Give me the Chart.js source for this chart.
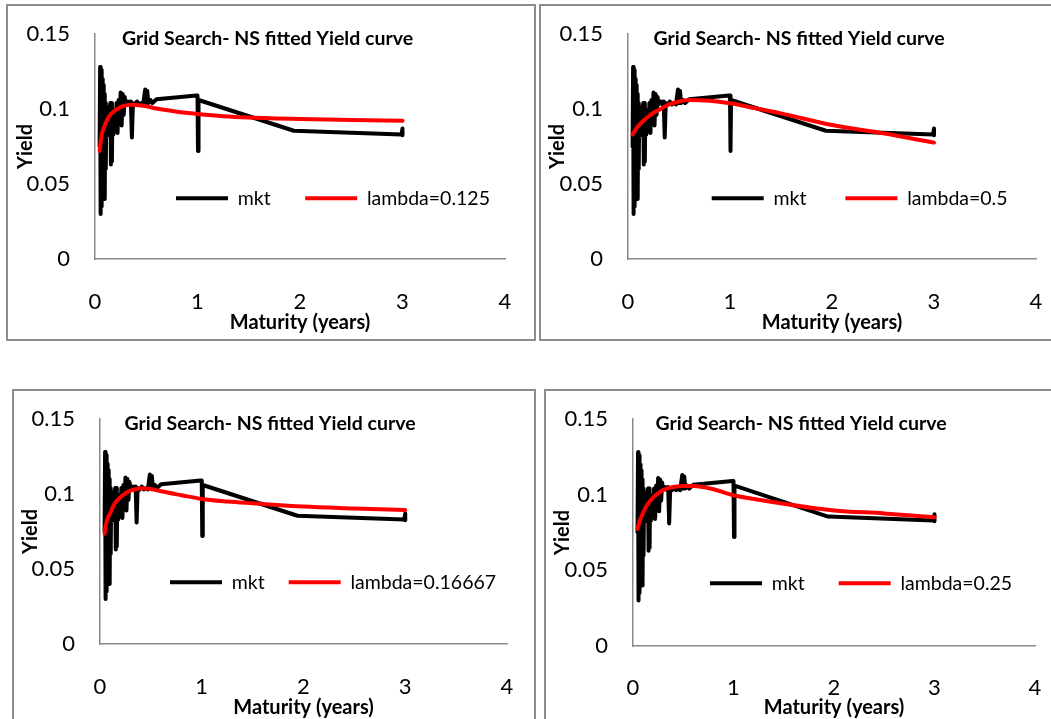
<!DOCTYPE html>
<html>
<head>
<meta charset="utf-8">
<script src="https://cdn.jsdelivr.net/npm/chart.js@4.4.0/dist/chart.umd.min.js"></script>
<style>
  html, body { margin: 0; padding: 0; background: #fff; overflow: hidden; width: 1051px; height: 719px; }
  .panel { position: absolute; box-sizing: border-box; border: 2px solid #8c8c8c; }
  canvas { position: absolute; }
</style>
</head>
<body>
<div class="panel" style="left:6px;top:4px;width:530px;height:337px"></div>
<div class="panel" style="left:539px;top:4px;width:530px;height:337px"></div>
<div class="panel" style="left:12px;top:389px;width:524px;height:340px"></div>
<div class="panel" style="left:544px;top:389px;width:530px;height:340px"></div>
<canvas id="c1" width="530" height="337" style="left:6px;top:4px"></canvas>
<canvas id="c2" width="530" height="337" style="left:539px;top:4px"></canvas>
<canvas id="c3" width="524" height="337" style="left:12px;top:389px"></canvas>
<canvas id="c4" width="530" height="337" style="left:544px;top:389px"></canvas>
<script>
// ---------- data ----------
const chartTitle = 'Grid Search- NS fitted Yield curve';
const xAxisTitle = 'Maturity (years)';
const yAxisTitle = 'Yield';
const xTickLabels = ['0', '1', '2', '3', '4'];
const yTickLabels = ['0', '0.05', '0.1', '0.15'];

const mktLabel = 'mkt';
const mktMaturity = [0.045, 0.050, 0.055, 0.060, 0.065, 0.070, 0.075, 0.080, 0.085, 0.090, 0.095, 0.100,
  0.105, 0.110, 0.115, 0.120, 0.130, 0.140, 0.150, 0.155, 0.160, 0.165, 0.170, 0.180, 0.190, 0.200,
  0.210, 0.220, 0.230, 0.240, 0.250, 0.260, 0.270, 0.280, 0.290, 0.300, 0.320, 0.340, 0.350, 0.360,
  0.370, 0.390, 0.410, 0.430, 0.450, 0.470, 0.490, 0.500, 0.510, 0.520, 0.540, 0.560, 0.600, 0.990,
  1.000, 1.005, 1.010, 1.940, 2.990, 3.000, 3.000];
const mktYield = [0.075, 0.128, 0.030, 0.126, 0.035, 0.120, 0.040, 0.116, 0.042, 0.110, 0.040, 0.104,
  0.060, 0.098, 0.082, 0.095, 0.085, 0.100, 0.104, 0.063, 0.104, 0.065, 0.100, 0.083, 0.099, 0.086,
  0.104, 0.084, 0.106, 0.090, 0.111, 0.089, 0.110, 0.096, 0.108, 0.103, 0.105, 0.103, 0.105, 0.081,
  0.104, 0.103, 0.105, 0.103, 0.104, 0.103, 0.113, 0.104, 0.112, 0.104, 0.106, 0.104, 0.1065, 0.109,
  0.109, 0.072, 0.106, 0.0855, 0.083, 0.087, 0.0825];

const fitMaturity = [0.045, 0.055, 0.065, 0.08, 0.1, 0.13, 0.16, 0.2, 0.26, 0.3, 0.35, 0.4, 0.5, 0.6,
  0.8, 1.0, 1.25, 1.5, 2.0, 2.5, 3.0];
const fitLabels = ['lambda=0.125', 'lambda=0.5', 'lambda=0.16667', 'lambda=0.25'];
const fitLambda0125 = [0.072, 0.078, 0.0825, 0.0865, 0.0897, 0.0942, 0.0970, 0.0993, 0.1016, 0.1024, 0.1028,
  0.1027, 0.1018, 0.1003, 0.0982, 0.0967, 0.0952, 0.0943, 0.0933, 0.0927, 0.0922];
const fitLambda05 = [0.0830, 0.0842, 0.0853, 0.0868, 0.0886, 0.0908, 0.0927, 0.0950, 0.0978, 0.0993, 0.1012,
  0.1030, 0.1050, 0.1060, 0.1055, 0.1038, 0.1005, 0.0971, 0.0893, 0.0838, 0.0776];
const fitLambda016667 = [0.0735, 0.0780, 0.0815, 0.0845, 0.0870, 0.0920, 0.0950, 0.0978, 0.1008, 0.1022, 0.1032,
  0.1038, 0.1033, 0.1018, 0.0992, 0.0967, 0.0950, 0.0938, 0.0916, 0.0904, 0.0893];
const fitLambda025 = [0.0775, 0.0800, 0.0822, 0.0850, 0.0880, 0.0920, 0.0950, 0.0980, 0.1013, 0.1031, 0.1043,
  0.1051, 0.1058, 0.1058, 0.1036, 0.0996, 0.0966, 0.0940, 0.0896, 0.0876, 0.0851];

// ---------- drawing ----------
const FONT = 'Lato';
const AXIS_COLOR = '#8a8a8a';
const TITLE_SIZE = 19.5, AXIS_TITLE_SIZE = 20, TICK_SIZE = 22, LEGEND_SIZE = 19.5;

const moveLegend = {
  id: 'moveLegend',
  afterLayout(chart, args, opts) {
    const lg = chart.legend;
    const lab = chart.options.plugins.legend.labels;
    const pad = lab.padding;
    const fs = lab.font.size;
    lg.left = opts.x - pad;
    lg.right = chart.width;
    lg.top = opts.y - pad - fs / 2;
    lg.bottom = lg.top + 80;
    lg.width = lg.right - lg.left;
    lg.height = 80;
  }
};

function pts(xs, ys) { return xs.map((x, i) => ({ x: x, y: ys[i] })); }

function makeChart(id, fitValues, fitLabel, L) {
  const cv = document.getElementById(id);
  const H = cv.height, W = cv.width;
  const tLH = TITLE_SIZE * 1.2, aLH = AXIS_TITLE_SIZE * 1.2;
  const tPadTop = 34.5 - tLH / 2;
  return new Chart(cv, {
    type: 'line',
    data: {
      datasets: [
        {
          label: mktLabel,
          data: pts(mktMaturity, mktYield),
          borderColor: '#000000',
          backgroundColor: '#000000',
          borderWidth: 4,
          pointRadius: 0,
          pointBorderWidth: 4,
          pointBorderColor: '#000000',
          tension: 0,
          borderJoinStyle: 'round',
          borderCapStyle: 'round',
          order: 2
        },
        {
          label: fitLabel,
          data: pts(fitMaturity, fitValues),
          borderColor: '#ff0000',
          backgroundColor: '#ff0000',
          borderWidth: 4,
          pointRadius: 0,
          pointBorderWidth: 4,
          pointBorderColor: '#ff0000',
          cubicInterpolationMode: 'monotone',
          borderJoinStyle: 'round',
          borderCapStyle: 'round',
          order: 1
        }
      ]
    },
    options: {
      responsive: false,
      animation: false,
      devicePixelRatio: 1,
      layout: { padding: { left: 0, right: W - 2 * L.tc, top: 0, bottom: 0 } },
      plugins: {
        tooltip: { enabled: false },
        title: {
          display: true,
          text: chartTitle,
          color: '#000',
          font: { family: FONT, size: TITLE_SIZE, weight: 'bold' },
          padding: { top: tPadTop, bottom: L.top - tLH - tPadTop }
        },
        legend: {
          display: true,
          position: 'top',
          align: 'start',
          maxHeight: 0.001,
          labels: {
            usePointStyle: true,
            pointStyle: 'line',
            pointStyleWidth: 52,
            padding: L.lpad,
            color: '#000',
            font: { family: FONT, size: LEGEND_SIZE },
            sort: (a, b) => a.datasetIndex - b.datasetIndex
          }
        },
        moveLegend: { x: L.lx, y: L.ly }
      },
      scales: {
        x: {
          type: 'linear',
          min: 0,
          max: 4,
          afterFit: (s) => { s.height = H - L.bottom; s.paddingLeft = 0; s.paddingRight = W - L.right; },
          grid: { display: false, drawTicks: false },
          border: { display: true, color: AXIS_COLOR, width: 1.5 },
          ticks: {
            stepSize: 1,
            padding: L.xpad,
            color: '#000',
            maxRotation: 0,
            font: { family: FONT, size: TICK_SIZE },
            callback: (v, i) => xTickLabels[i]
          },
          title: {
            display: true,
            text: xAxisTitle,
            color: '#000',
            font: { family: FONT, size: AXIS_TITLE_SIZE, weight: 'bold' },
            padding: { top: 0, bottom: H - 319 - aLH / 2 }
          }
        },
        y: {
          type: 'linear',
          min: 0,
          max: 0.15,
          afterFit: (s) => { s.width = L.left; s.paddingTop = 0; s.paddingBottom = 0; },
          grid: { display: false, drawTicks: false },
          border: { display: true, color: AXIS_COLOR, width: 1.5 },
          ticks: {
            stepSize: 0.05,
            padding: 25,
            color: '#000',
            font: { family: FONT, size: TICK_SIZE },
            callback: (v, i) => yTickLabels[i]
          },
          title: {
            display: true,
            text: yAxisTitle,
            color: '#000',
            font: { family: FONT, size: AXIS_TITLE_SIZE, weight: 'bold' },
            padding: { top: L.ytx - aLH / 2, bottom: 0 }
          }
        }
      }
    },
    plugins: [moveLegend]
  });
}

makeChart('c1', fitLambda0125, fitLabels[0],
  { tc: 261.5, left: 89, right: 499, top: 30, bottom: 255, xpad: 30, ytx: 19.5, lx: 170, ly: 194.3, lpad: 34.5 });
makeChart('c2', fitLambda05, fitLabels[1],
  { tc: 260, left: 89, right: 497, top: 30, bottom: 255, xpad: 30, ytx: 18.8, lx: 172.7, ly: 194.3, lpad: 39 });
makeChart('c3', fitLambda016667, fitLabels[2],
  { tc: 258, left: 88, right: 495, top: 30, bottom: 255, xpad: 30, ytx: 18.3, lx: 158, ly: 193.3, lpad: 24 });
makeChart('c4', fitLambda025, fitLabels[3],
  { tc: 257, left: 89, right: 491, top: 30, bottom: 257, xpad: 29, ytx: 18.5, lx: 166, ly: 194.3, lpad: 34 });
</script>
</body>
</html>
